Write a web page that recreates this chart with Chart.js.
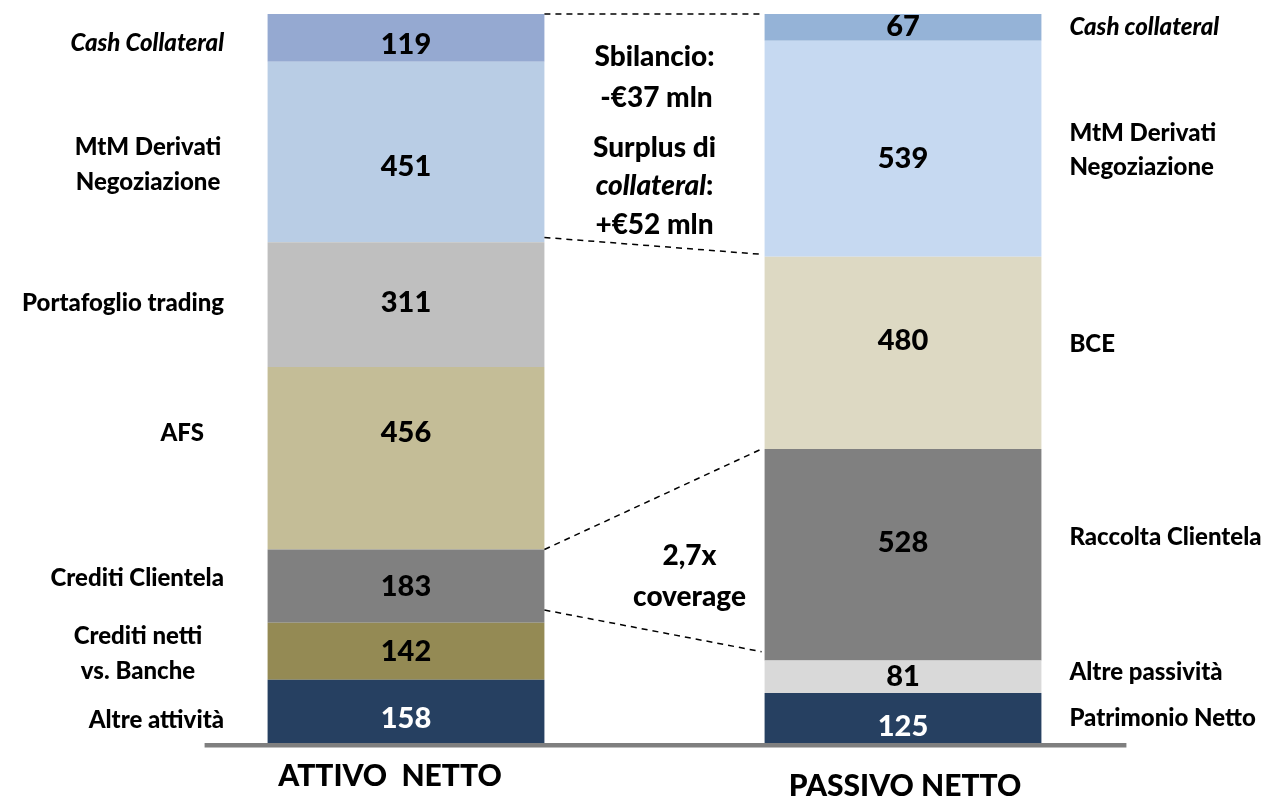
<!DOCTYPE html>
<html lang="it">
<head>
<meta charset="UTF-8">
<title>Attivo / Passivo netto</title>
<script src="https://cdn.jsdelivr.net/npm/chart.js"></script>
<style>
    body { margin: 0; background: #fff; }
    canvas { display: block; }
</style>
</head>
<body>
<canvas id="bilancio" width="1268" height="799"></canvas>
<script>
    // Data (bottom to top)
    const categories = ['ATTIVO  NETTO', 'PASSIVO NETTO'];

    const attivoLabels = ['Altre attività', ['Crediti netti', 'vs. Banche'], 'Crediti Clientela', 'AFS',
        'Portafoglio trading', ['MtM Derivati', 'Negoziazione'], 'Cash Collateral'];
    const attivoValues = [158, 142, 183, 456, 311, 451, 119];

    const passivoLabels = ['Patrimonio Netto', 'Altre passività', 'Raccolta Clientela', 'BCE',
        ['MtM Derivati', 'Negoziazione'], 'Cash collateral'];
    const passivoValues = [125, 81, 528, 480, 539, 67];

    // Dashed connector ends (value on attivo side, value on passivo side)
    const connectorFrom = [1820, 1262, 483, 332];
    const connectorTo = [1820, 1220, 734, 228];

    // Styles
    const attivoColors = ['#264061', '#948A54', '#808080', '#C4BD97', '#BFBFBF', '#B9CDE5', '#95A9D1'];
    const passivoColors = ['#264061', '#D9D9D9', '#808080', '#DDD9C3', '#C6D9F1', '#95B3D7'];
    const attivoItalic = [false, false, false, false, false, false, true];
    const passivoItalic = [false, false, false, false, false, true];
    const attivoValueDy = [7, 0, 0, -26, -2, 15, 7];
    const attivoLabelDy = [9, 2, -8, -25, -1, 13, 5];
    const passivoValueDy = [9, 0, -12, -12, 10, -1];
    const passivoLabelDy = [0, -4, -17, -9, 1, 0];
    // left labels: [align, x]
    const attivoLabelPos = [['right', 224], ['center', 138], ['right', 224], ['right', 204],
        ['right', 224], ['center', 148], ['right', 224]];

    const FONT = 'Lato, "Open Sans", sans-serif';
    const W = '900 ';

    const datasets = [];
    attivoValues.forEach((v, i) => datasets.push({
        label: [].concat(attivoLabels[i]).join(' '),
        data: [v, null],
        backgroundColor: attivoColors[i],
        side: 0, idx: i
    }));
    passivoValues.forEach((v, i) => datasets.push({
        label: [].concat(passivoLabels[i]).join(' '),
        data: [null, v],
        backgroundColor: passivoColors[i],
        side: 1, idx: i
    }));

    const total = attivoValues.reduce((a, b) => a + b, 0);

    const overlay = {
        id: 'overlay',
        afterDatasetsDraw(chart) {
            const ctx = chart.ctx;
            const yScale = chart.scales.y;
            const xScale = chart.scales.x;
            ctx.save();
            ctx.textBaseline = 'middle';

            let leftEdge = 0, rightEdge = 0, leftRight = 0, rightLeft = 0;

            chart.data.datasets.forEach((ds, di) => {
                const meta = chart.getDatasetMeta(di);
                const el = meta.data[ds.side];
                if (!el) return;
                const mid = (el.y + el.base) / 2;
                const value = ds.data[ds.side];
                const white = ds.backgroundColor === '#264061';

                // value in bar
                const vdy = ds.side === 0 ? attivoValueDy[ds.idx] : passivoValueDy[ds.idx];
                ctx.font = W + '29px ' + FONT;
                ctx.fillStyle = white ? '#ffffff' : '#000000';
                ctx.textAlign = 'center';
                ctx.fillText(String(value), el.x, mid + vdy);

                // side label
                ctx.fillStyle = '#000000';
                if (ds.side === 0) {
                    leftRight = el.x + el.width / 2;
                    leftEdge = el.x - el.width / 2;
                    const lines = [].concat(attivoLabels[ds.idx]);
                    const [align, x] = attivoLabelPos[ds.idx];
                    ctx.font = (attivoItalic[ds.idx] ? 'italic ' : '') + W + '24px ' + FONT;
                    ctx.textAlign = align;
                    const y0 = mid + attivoLabelDy[ds.idx] - (lines.length - 1) * 17.5;
                    lines.forEach((t, k) => ctx.fillText(t, x, y0 + k * 35));
                } else {
                    rightLeft = el.x - el.width / 2;
                    rightEdge = el.x + el.width / 2;
                    const lines = [].concat(passivoLabels[ds.idx]);
                    ctx.font = (passivoItalic[ds.idx] ? 'italic ' : '') + W + '24px ' + FONT;
                    ctx.textAlign = 'left';
                    const y0 = mid + passivoLabelDy[ds.idx] - (lines.length - 1) * 17;
                    lines.forEach((t, k) => ctx.fillText(t, rightEdge + 28, y0 + k * 34));
                }
            });

            // dashed connectors
            ctx.strokeStyle = '#000000';
            ctx.lineWidth = 1.5;
            ctx.setLineDash([6, 5]);
            connectorFrom.forEach((v, i) => {
                ctx.beginPath();
                ctx.moveTo(leftRight, yScale.getPixelForValue(v));
                ctx.lineTo(rightLeft - 3, yScale.getPixelForValue(connectorTo[i]));
                ctx.stroke();
            });
            ctx.setLineDash([]);

            // baseline
            const base = yScale.getPixelForValue(0);
            ctx.fillStyle = '#7F7F7F';
            ctx.fillRect(leftEdge - 63, base, (rightEdge + 85) - (leftEdge - 63), 4.5);

            // annotations
            const gapX = (leftRight + rightLeft) / 2;
            const aFont = W + '28px ' + FONT;
            const aFontI = 'italic ' + W + '28px ' + FONT;
            ctx.fillStyle = '#000000';
            ctx.textAlign = 'center';
            ctx.font = aFont;
            ctx.fillText('Sbilancio:', gapX, 57);
            ctx.fillText('-€37 mln', gapX + 2, 98);
            ctx.fillText('Surplus di', gapX, 148);
            // "collateral:" with italic word
            ctx.font = aFontI;
            const w1 = ctx.measureText('collateral').width;
            ctx.font = aFont;
            const w2 = ctx.measureText(':').width;
            const sx = gapX - (w1 + w2) / 2;
            ctx.textAlign = 'left';
            ctx.font = aFontI;
            ctx.fillText('collateral', sx, 186);
            ctx.font = aFont;
            ctx.fillText(':', sx + w1, 186);
            ctx.textAlign = 'center';
            ctx.fillText('+€52 mln', gapX, 225);
            ctx.fillText('2,7x', gapX + 35, 556);
            ctx.fillText('coverage', gapX + 35, 597);

            // category labels
            ctx.font = W + '30px ' + FONT;
            ctx.fillText(categories[0], xScale.getPixelForValue(0) - 16, 776);
            ctx.fillText(categories[1], xScale.getPixelForValue(1) + 2, 786);

            ctx.restore();
        }
    };

    new Chart(document.getElementById('bilancio'), {
        type: 'bar',
        data: { labels: categories, datasets },
        options: {
            responsive: false,
            animation: false,
            layout: { padding: { left: 157.5, right: 116.5, top: 14, bottom: 56 } },
            datasets: { bar: { barPercentage: 1, categoryPercentage: 0.557, borderWidth: 0 } },
            scales: {
                x: { stacked: true, display: false },
                y: { stacked: true, display: false, min: 0, max: total }
            },
            plugins: { legend: { display: false }, tooltip: { enabled: false } }
        },
        plugins: [overlay]
    });
</script>
</body>
</html>
